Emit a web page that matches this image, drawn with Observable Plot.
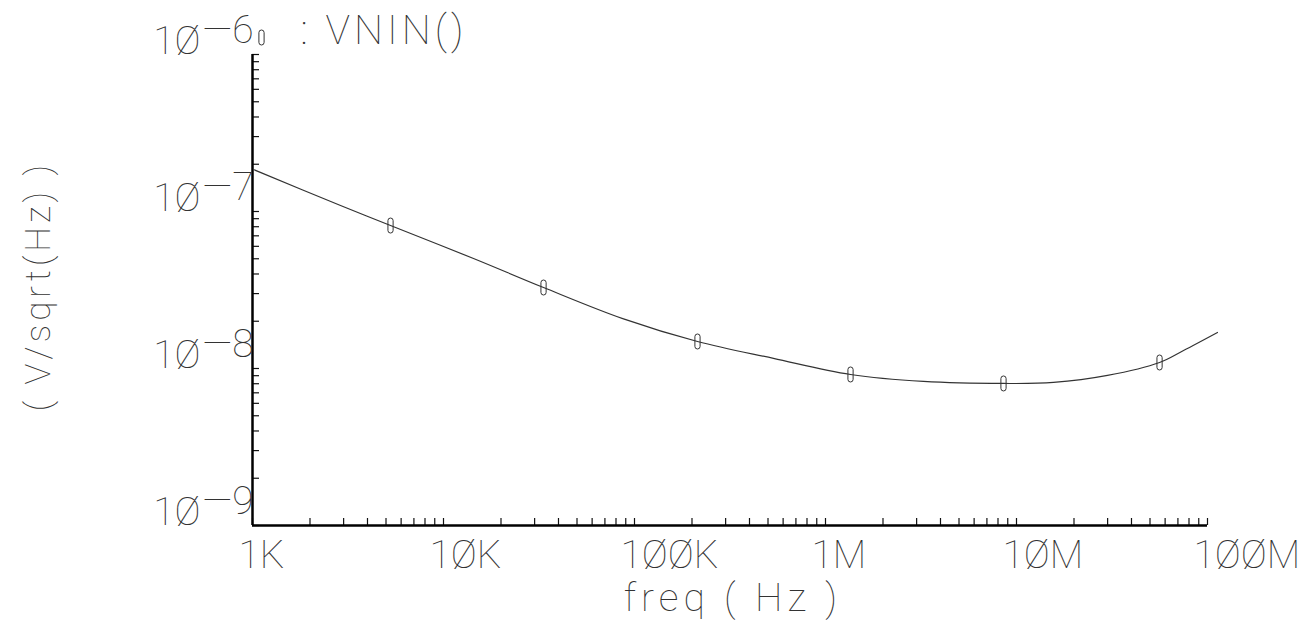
<!DOCTYPE html>
<html><head><meta charset="utf-8">
<script src="https://cdn.jsdelivr.net/npm/d3@7"></script>
<script src="https://cdn.jsdelivr.net/npm/@observablehq/plot@0.6"></script>
<style>
body{margin:0;background:#fff;}
</style></head><body><div id="chart"></div>
<script>
// ---- data ----
const freqHz = [1.012e3, 2.89e3, 5.28e3, 14.36e3, 33.4e3, 87.6e3, 213.7e3, 534e3, 1.352e6, 3.26e6, 8.55e6, 15.62e6, 29.95e6, 56.1e6, 74.9e6, 112.8e6];
const vnin   = [1.851e-7, 1.092e-7, 8.14e-8, 5.02e-8, 3.28e-8, 2.07e-8, 1.486e-8, 1.16e-8, 9.16e-9, 8.27e-9, 8.03e-9, 8.15e-9, 9.03e-9, 1.092e-8, 1.302e-8, 1.696e-8];
const markerFreqHz = [5.28e3, 33.4e3, 213.7e3, 1.352e6, 8.55e6, 56.1e6];
const markerVnin   = [8.14e-8, 3.28e-8, 1.486e-8, 9.16e-9, 8.03e-9, 1.092e-8];
const xTickValues = [1e3, 1e4, 1e5, 1e6, 1e7, 1e8];
const xTickLabels = ["1K", "1ØK", "1ØØK", "1M", "1ØM", "1ØØM"];
const yTickValues = [1e-9, 1e-8, 1e-7, 1e-6];
const yTickBase = "1Ø";
const yTickExponents = ["9", "8", "7", "6"];
const titleText = ": VNIN()";
const xLabel = "freq ( Hz )";
const yLabel = "( V/sqrt(Hz) )";

// ---- layout ----
const W = 1303, H = 624, mL = 252, mR = 96, mT = 54, mB = 99;
const fw = W - mL - mR, fh = H - mT - mB;
const FONT = "Roboto, Lato, 'DejaVu Sans', sans-serif";
const INK = "#333";

const curve = freqHz.map((f, i) => ({f, v: vnin[i]}));
const markers = markerFreqHz.map((f, i) => ({f, v: markerVnin[i]}));
const xTicks = xTickValues.map((v, i) => ({v, label: xTickLabels[i]}));
const yTicks = yTickValues.map((v, i) => ({v, exp: yTickExponents[i]}));

const minor = (lo, hi) => {
  const out = [];
  for (let e = lo; e < hi; e++) for (let k = 1; k <= 9; k++) out.push(k * Math.pow(10, e));
  out.push(Math.pow(10, hi));
  return out;
};
const xMinor = minor(3, 8);
const yMinor = minor(-9, -6);

const capsule = {
  draw(ctx) {
    const w = 2.6, h = 7.5;
    ctx.moveTo(-w, -h + w);
    ctx.arc(0, -h + w, w, Math.PI, 0);
    ctx.lineTo(w, h - w);
    ctx.arc(0, h - w, w, 0, Math.PI);
    ctx.closePath();
  }
};

const txt = {fontFamily: FONT, fontWeight: 100, fill: INK};

const plot = Plot.plot({
  width: W, height: H,
  marginLeft: mL, marginRight: mR, marginTop: mT, marginBottom: mB,
  x: {type: "log", domain: [1e3, 1e8], axis: null},
  y: {type: "log", domain: [1e-9, 1e-6], axis: null},
  marks: [
    // minor ticks
    Plot.ruleX(xMinor, {x: d => d, insetTop: fh - 7, stroke: "#111", strokeWidth: 1.2}),
    Plot.ruleY(yMinor, {y: d => d, insetRight: fw - 7, stroke: "#111", strokeWidth: 1.2}),
    // axes lines
    Plot.ruleX([1e3], {x: d => d, stroke: "#000", strokeWidth: 2.5}),
    Plot.ruleY([1e-9], {y: d => d, stroke: "#000", strokeWidth: 2.5}),
    // curve
    Plot.line(curve, {x: "f", y: "v", curve: "catmull-rom", stroke: INK, strokeWidth: 1.2}),
    Plot.dot(markers, {x: "f", y: "v", symbol: capsule, stroke: INK, strokeWidth: 1, fill: "none"}),
    // x tick labels
    Plot.text(xTicks, {x: "v", text: "label", frameAnchor: "bottom", textAnchor: "start", lineAnchor: "bottom", dx: -14, dy: 42, fontSize: 39, ...txt}),
    // y tick labels
    Plot.text(yTicks, {y: "v", text: () => yTickBase, frameAnchor: "left", textAnchor: "end", lineAnchor: "bottom", dx: -52, dy: -1, fontSize: 39, ...txt}),
    Plot.text(yTicks, {y: "v", text: d => "—" + d.exp, frameAnchor: "left", textAnchor: "start", lineAnchor: "bottom", dx: -50, dy: -12, fontSize: 39, ...txt}),
    // title
    Plot.dot([0], {frameAnchor: "top-left", symbol: capsule, dx: 9, dy: -17, stroke: INK, strokeWidth: 1, fill: "none"}),
    Plot.text([titleText], {frameAnchor: "top-left", textAnchor: "start", lineAnchor: "bottom", dx: 48, dy: -11, fontSize: 41, ...txt}),
    // axis labels
    Plot.text([xLabel], {frameAnchor: "bottom", textAnchor: "middle", lineAnchor: "bottom", dx: 3, dy: 85, fontSize: 39, ...txt}),
    Plot.text([yLabel], {frameAnchor: "left", textAnchor: "middle", lineAnchor: "middle", rotate: -90, dx: -214, dy: -4, fontSize: 35, ...txt})
  ]
});

document.getElementById("chart").appendChild(plot);
d3.select(plot).selectAll("text").each(function () {
  const t = this.textContent;
  if (t === xLabel) this.setAttribute("letter-spacing", "5");
  if (t === yLabel) this.setAttribute("letter-spacing", "4");
  if (t === titleText) this.setAttribute("letter-spacing", "4");
});
</script>
</body></html>
